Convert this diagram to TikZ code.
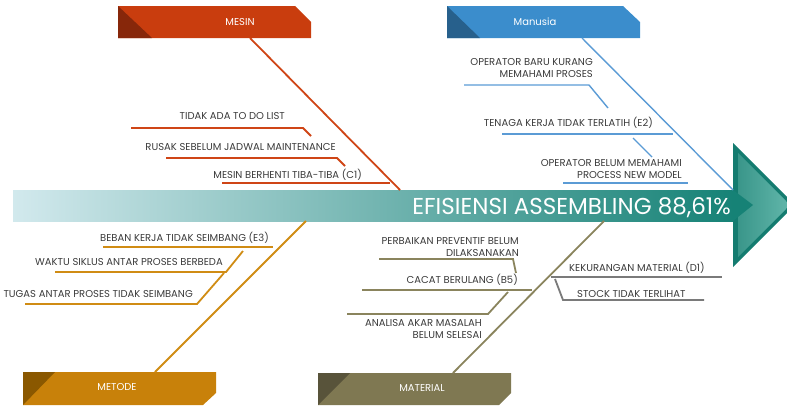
\documentclass[tikz,border=0pt]{standalone}
\usepackage{fontspec}
\setmainfont{Poppins}
\usetikzlibrary{shapes}

\definecolor{spinelight}{HTML}{D2E9ED}
\definecolor{spinedark}{HTML}{168276}
\definecolor{arrowdark}{HTML}{147C70}
\definecolor{arrowmid}{HTML}{3A968A}
\definecolor{arrowlight}{HTML}{62B7AB}
\definecolor{mesinbox}{HTML}{C93D0E}
\definecolor{mesindark}{HTML}{87270A}
\definecolor{mesinline}{HTML}{CF4516}
\definecolor{manusiabox}{HTML}{3B8DCC}
\definecolor{manusiadark}{HTML}{27608C}
\definecolor{manusialine}{HTML}{5B9BD5}
\definecolor{metodebox}{HTML}{C8810A}
\definecolor{metodedark}{HTML}{8A5800}
\definecolor{metodeline}{HTML}{D08C14}
\definecolor{materialbox}{HTML}{7F7852}
\definecolor{materialdark}{HTML}{58533A}
\definecolor{materialline}{HTML}{8A845D}
\definecolor{stockline}{HTML}{7A7A7A}
\definecolor{labelgray}{HTML}{3A3A3A}

\begin{document}
\begin{tikzpicture}[x=1pt,y=-1pt,
    cause/.style={font=\fontsize{10}{12}\selectfont, text=labelgray, inner sep=0pt, align=right},
    category/.style={font=\fontsize{10}{12}\selectfont, text=white, inner sep=0pt},
    bone/.style={line width=1.8pt},
    rib/.style={line width=1.8pt}]
  \useasboundingbox (0,0) rectangle (787,405);
  \clip (0,0) rectangle (787,405);

  % spine and head
  \shade[left color=spinelight, right color=spinedark] (13,190) rectangle (733,221);
  \fill[arrowdark] (733,143) -- (795,205) -- (733,267) -- cycle;
  \shade[left color=arrowmid, right color=arrowlight] (738,153) -- (790,205) -- (738,257) -- cycle;
  \fill[spinedark] (733,190) -- (753,205) -- (733,221) -- cycle;
  \node[font=\fontsize{23}{24}\selectfont, text=white, anchor=base east, inner sep=0pt] (effect)
    at (731,214) {EFISIENSI ASSEMBLING 88,61\%};

  % category boxes
  \fill[mesinbox] (118,6) -- (295,6) -- (311,22) -- (311,38) -- (118,38) -- cycle;
  \fill[mesindark] (118,6) -- (152,38) -- (118,38) -- cycle;
  \node[category] (mesin) at (240,22) {MESIN};

  \fill[manusiabox] (447,6) -- (623,6) -- (640,22) -- (640,38) -- (447,38) -- cycle;
  \fill[manusiadark] (447,6) -- (480,38) -- (447,38) -- cycle;
  \node[category] (manusia) at (535,22) {Manusia};

  \fill[metodebox] (23,372) -- (216,372) -- (216,393) -- (203,405) -- (23,405) -- cycle;
  \fill[metodedark] (23,372) -- (55,372) -- (23,405) -- cycle;
  \node[category] (metode) at (117,387) {METODE};

  \fill[materialbox] (318,373) -- (511,373) -- (511,393) -- (499,405) -- (318,405) -- cycle;
  \fill[materialdark] (318,373) -- (350,373) -- (318,405) -- cycle;
  \node[category] (material) at (422,388) {MATERIAL};

  % bones
  \coordinate (mesin-root) at (250,38);
  \coordinate (mesin-tip) at (400,190);
  \coordinate (manusia-root) at (582,38);
  \coordinate (manusia-tip) at (733,190);
  \coordinate (metode-root) at (155,372);
  \coordinate (metode-tip) at (306,221);
  \coordinate (material-root) at (453,373);
  \coordinate (material-tip) at (604,221);
  \path[bone]
    (mesin-root) edge[draw=mesinline] (mesin-tip)
    (manusia-root) edge[draw=manusialine, line width=1.4pt] (manusia-tip)
    (metode-root) edge[draw=metodeline] (metode-tip)
    (material-root) edge[draw=materialline] (material-tip);

  % mesin causes
  \node[cause, anchor=base east] (todo) at (285,119) {TIDAK ADA TO DO LIST};
  \node[cause, anchor=base east] (rusak) at (336,150) {RUSAK SEBELUM JADWAL MAINTENANCE};
  \node[cause, anchor=base east] (berhenti) at (362,178) {MESIN BERHENTI TIBA-TIBA (C1)};
  \draw[rib, mesinline] (131,128) -- (303,128) -- (311,136);
  \draw[rib, mesinline] (166,158) -- (337,158) -- (345,166);
  \draw[rib, mesinline] (222,183) -- (390,183);

  % manusia causes
  \node[cause, anchor=east] (operatorbaru) at (593,68) {OPERATOR BARU KURANG\\MEMAHAMI PROSES};
  \node[cause, anchor=base east] (tenaga) at (653,126) {TENAGA KERJA TIDAK TERLATIH (E2)};
  \node[cause, anchor=east] (operatorbelum) at (682,169) {OPERATOR BELUM MEMAHAMI\\PROCESS NEW MODEL};
  \draw[rib, manusialine, line width=1.4pt] (464,85) -- (589,85) -- (608,108);
  \draw[rib, manusialine, line width=1.4pt] (502,134) -- (673,134);
  \draw[rib, manusialine, line width=1.4pt] (633,138) -- (652,157);
  \draw[rib, manusialine, line width=1.4pt] (563,183) -- (688,183);

  % metode causes
  \node[cause, anchor=base east] (beban) at (269,241) {BEBAN KERJA TIDAK SEIMBANG (E3)};
  \node[cause, anchor=base east] (waktu) at (223,265) {WAKTU SIKLUS ANTAR PROSES BERBEDA};
  \node[cause, anchor=base east] (tugas) at (193,297) {TUGAS ANTAR PROSES TIDAK SEIMBANG};
  \draw[rib, metodeline] (103,247) -- (273,247);
  \draw[rib, metodeline] (55,272) -- (226,272) -- (243,251);
  \draw[rib, metodeline] (25,304) -- (197,304) -- (224,273);

  % material causes
  \node[cause, anchor=east] (perbaikan) at (519,247) {PERBAIKAN PREVENTIF BELUM\\DILAKSANAKAN};
  \node[cause, anchor=base east] (cacat) at (518,283) {CACAT BERULANG (B5)};
  \node[cause, anchor=east] (analisa) at (482,329) {ANALISA AKAR MASALAH\\BELUM SELESAI};
  \node[cause, anchor=base west] (kekurangan) at (569,271) {KEKURANGAN MATERIAL (D1)};
  \node[cause, anchor=base west] (stock) at (577,297) {STOCK TIDAK TERLIHAT};
  \draw[rib, materialline] (379,259) -- (513,259) -- (516,273);
  \draw[rib, materialline] (362,290) -- (532,290);
  \draw[rib, materialline] (347,314) -- (488,314) -- (508,292);
  \draw[rib, stockline] (551,277) -- (722,277);
  \draw[rib, stockline] (555,279) -- (563,300) -- (704,300);
\end{tikzpicture}
\end{document}
